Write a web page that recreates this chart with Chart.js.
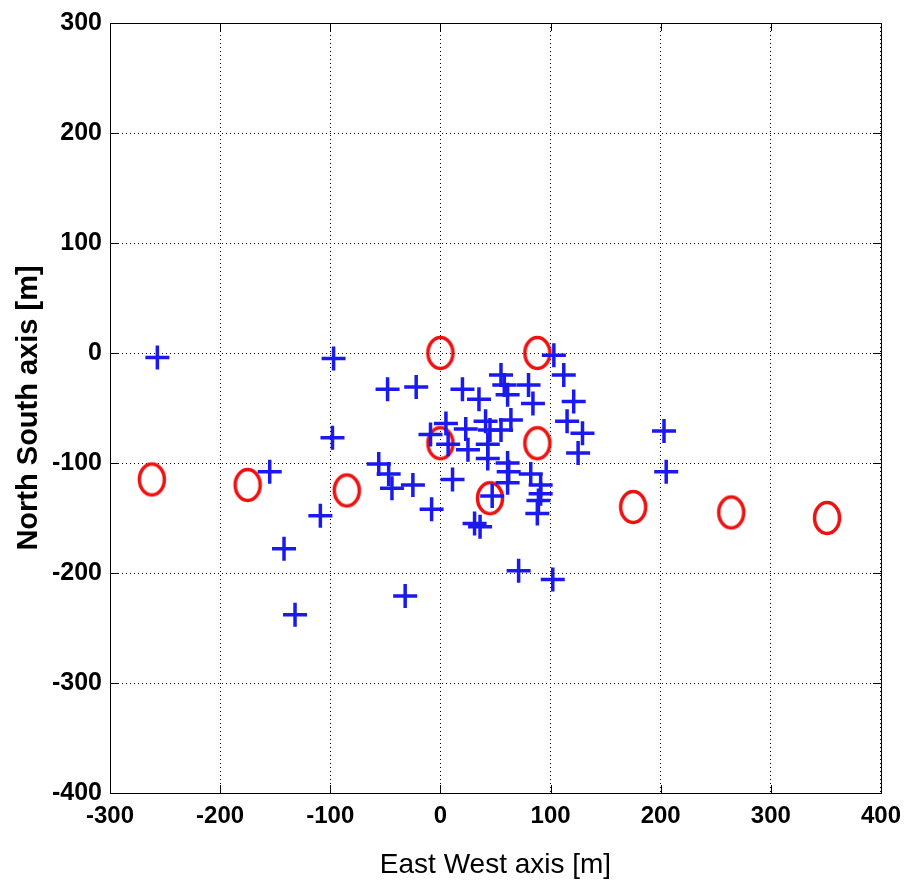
<!DOCTYPE html>
<html>
<head>
<meta charset="utf-8">
<script src="https://cdn.jsdelivr.net/npm/chart.js@4/dist/chart.umd.min.js"></script>
<style>
  html, body { margin: 0; padding: 0; background: #fff; }
  #wrap { width: 910px; height: 885px; }
</style>
</head>
<body>
<div id="wrap"><canvas id="c"></canvas></div>
<script>
// station positions (metres)
const crossX = [-257, -97, -98, -155, -48, -22, -56, -47, -44, -25, -109, -142, -132, -32, -8,
  20, 35, 55, 58, 61, 80, 84, 103, 112, 121, 115, 129, 125, 5, 23, 41, 45, 55, 64, -9, 7,
  25, 43, 43, 61, 62, 61, 82, 91, 91, 89, 88, 11, 47, 31, 36, 71, 102, 203, 205];
const crossY = [-4, -5, -77, -108, -33, -31, -101, -110, -123, -120, -148, -178, -238, -221, -142,
  -33, -42, -20, -29, -38, -29, -46, -2, -20, -44, -62, -73, -91, -64, -69, -62, -70, -70, -61, -74, -83,
  -88, -83, -96, -100, -108, -118, -110, -120, -128, -134, -146, -115, -130, -155, -158, -198, -206, -71, -108];
const ringX = [-262, -175, -85, 0, 0, 45, 88, 88, 175, 264, 351];
const ringY = [-115, -120, -125, 0, -82, -132, 0, -82, -140, -145, -150];
const xTicks = [-300, -200, -100, 0, 100, 200, 300, 400];
const yTicks = [-400, -300, -200, -100, 0, 100, 200, 300];

const toPts = (xs, ys) => xs.map((x, i) => ({ x, y: ys[i] }));

// slightly tall red ellipse like the matlab 'o' marker
function ringImage() {
  const cv = document.createElement('canvas');
  cv.width = 32; cv.height = 38;
  const g = cv.getContext('2d');
  g.strokeStyle = '#ee1111';
  g.lineWidth = 3.5;
  g.beginPath();
  g.ellipse(16, 19, 12.5, 15.5, 0, 0, Math.PI * 2);
  g.stroke();
  return cv;
}

const frame = {
  id: 'frame',
  beforeDraw(chart) {
    const c = chart.ctx;
    c.save();
    c.fillStyle = '#fff';
    c.fillRect(0, 0, chart.width, chart.height);
    c.restore();
  },
  afterDraw(chart) {
    const { ctx: c, chartArea: a, scales } = chart;
    c.save();
    c.strokeStyle = '#000';
    c.lineWidth = 1;
    c.strokeRect(a.left + 0.5, a.top + 0.5, a.right - a.left, a.bottom - a.top);
    c.beginPath();
    xTicks.forEach(v => {
      const px = Math.round(scales.x.getPixelForValue(v)) + 0.5;
      c.moveTo(px, a.bottom); c.lineTo(px, a.bottom - 8);
      c.moveTo(px, a.top); c.lineTo(px, a.top + 8);
    });
    yTicks.forEach(v => {
      const py = Math.round(scales.y.getPixelForValue(v)) + 0.5;
      c.moveTo(a.left, py); c.lineTo(a.left + 8, py);
      c.moveTo(a.right, py); c.lineTo(a.right - 8, py);
    });
    c.stroke();
    c.restore();
  }
};

const sans = "'Liberation Sans', Arial, sans-serif";
const grid = { color: '#000', lineWidth: 1, drawTicks: false };

new Chart(document.getElementById('c'), {
  type: 'scatter',
  data: {
    datasets: [
      { label: 'plus', data: toPts(crossX, crossY), pointStyle: 'cross', pointRadius: 12,
        pointHoverRadius: 12, borderColor: '#1a1aee', backgroundColor: '#1a1aee', pointBorderWidth: 3.5 },
      { label: 'ring', data: toPts(ringX, ringY), pointStyle: ringImage(), pointRadius: 16 },
    ],
  },
  options: {
    responsive: true, maintainAspectRatio: false, animation: false,
    layout: { padding: { top: 20, right: 29, left: 0, bottom: 0 } },
    plugins: { legend: { display: false }, tooltip: { enabled: false } },
    scales: {
      x: {
        min: -300, max: 400,
        afterFit: s => { s.height = 92; },
        afterBuildTicks: s => { s.ticks = xTicks.map(v => ({ value: v })); },
        grid,
        border: { display: false, dash: [1, 3] },
        ticks: { color: '#000', font: { family: sans, size: 24, weight: 'bold' }, padding: 9,
          autoSkip: false, maxRotation: 0 },
        title: { display: true, text: 'East West axis [m]', color: '#000',
          font: { family: sans, size: 28 }, padding: { top: 0, bottom: 3 } },
      },
      y: {
        min: -400, max: 300,
        afterFit: s => { s.width = 110; },
        afterBuildTicks: s => { s.ticks = yTicks.map(v => ({ value: v })); },
        grid,
        border: { display: false, dash: [1, 3] },
        ticks: { color: '#000', font: { family: sans, size: 25, weight: 'bold' }, padding: 8, autoSkip: false },
        title: { display: true, text: 'North South axis [m]', color: '#000',
          font: { family: sans, size: 29, weight: 'bold' }, padding: { top: 12, bottom: 0 } },
      },
    },
  },
  plugins: [frame],
});
</script>
</body>
</html>
